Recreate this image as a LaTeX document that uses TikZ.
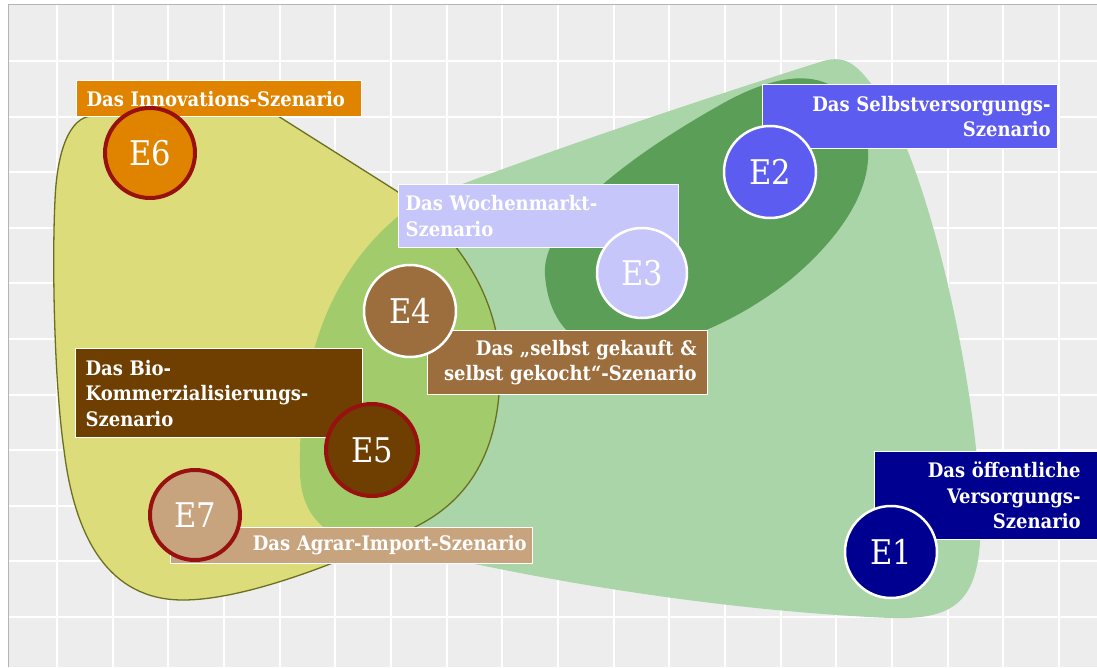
\documentclass[tikz,border=0pt]{standalone}
\usepackage{fontspec}
\setmainfont{DejaVu Serif Condensed}
\newcommand\lblfont{\bfseries\fontsize{20}{25.5}\selectfont\exhyphenpenalty=10000\relax\hyphenpenalty=10000\relax}
\begin{document}
\begin{tikzpicture}[x=1pt,y=-1pt,
  lbox/.style={draw=white, line width=1.2pt, text=white, anchor=north west,
    inner ysep=0pt, font=\lblfont},
  ecirc/.style={circle, text=white, inner sep=0pt, font=\fontsize{34}{34}\selectfont},
  redring/.style={ecirc, draw=ringred, line width=4pt, minimum size=90pt},
  whitering/.style={ecirc, draw=white, line width=2.5pt, minimum size=92pt}]
\definecolor{bggray}{HTML}{EDEDED}
\definecolor{framegray}{HTML}{B4B4B4}
\definecolor{lgreen}{HTML}{A9D5A9}
\definecolor{dgreen}{HTML}{5A9E58}
\definecolor{yel}{HTML}{DCDC7A}
\definecolor{mgreen}{HTML}{A2CC6C}
\definecolor{olive}{HTML}{6B7020}
\definecolor{orng}{HTML}{E08400}
\definecolor{ringred}{HTML}{981010}
\definecolor{eblue}{HTML}{5C5CF0}
\definecolor{lav}{HTML}{C6C6FA}
\definecolor{brn}{HTML}{9C6E3E}
\definecolor{dbrn}{HTML}{6E3F00}
\definecolor{tan}{HTML}{C8A47E}
\definecolor{navy}{HTML}{000090}
\useasboundingbox (0,0) rectangle (1097,667);
% background and grid
\fill[bggray] (8,4) rectangle (1097,667);
\foreach \k in {0,...,18} \draw[white, line width=2pt] ({57+55.67*\k},4) -- ({57+55.67*\k},667);
\foreach \k in {0,...,10} \draw[white, line width=2pt] (8,{61+55.6*\k}) -- (1097,{61+55.6*\k});
\draw[framegray, line width=1pt] (8,667) -- (8,4) -- (1097,4);
% light green blob
\def\lgpath{(300,470) .. controls (298,360) and (330,260) .. (420,200)
  .. controls (550,150) and (700,100) .. (820,62)
  .. controls (850,52) and (860,70) .. (880,95)
  .. controls (930,170) and (975,380) .. (980,500)
  .. controls (985,600) and (960,620) .. (890,618)
  .. controls (750,612) and (600,590) .. (480,565)
  .. controls (400,550) and (300,560) .. (300,470) -- cycle}
\def\ylpath{(92,116) -- (278,116) -- (395,190)
  .. controls (460,235) and (500,300) .. (500,370)
  .. controls (500,450) and (470,500) .. (415,527)
  .. controls (330,568) and (240,600) .. (183,600)
  .. controls (110,600) and (75,540) .. (64,450)
  .. controls (54,380) and (52,260) .. (55,200)
  .. controls (57,150) and (70,117) .. (92,116) -- cycle}
\fill[lgreen] \lgpath;
\fill[yel] \ylpath;
\begin{scope}
  \clip \ylpath;
  \fill[mgreen] \lgpath;
\end{scope}
\draw[olive, line width=1.3pt] \ylpath;
% dark green blob
\fill[dgreen] (545,275) .. controls (540,220) and (640,150) .. (720,105)
  .. controls (790,65) and (840,70) .. (860,120)
  .. controls (885,170) and (850,230) .. (790,280)
  .. controls (720,335) and (640,360) .. (590,345)
  .. controls (560,335) and (547,305) .. (545,275) -- cycle;
% labels
\node[lbox, fill=orng, minimum width=285pt, minimum height=36pt, inner xsep=10pt,
  text width=265pt, align=left] (l6) at (76,80) {Das Innovations-Szenario};
\node[lbox, fill=eblue, minimum width=295pt, minimum height=64pt, inner xsep=7pt,
  text width=281pt, align=right] (l2) at (762,84) {Das Selbstversorgungs-\\Szenario};
\node[lbox, fill=lav, minimum width=280pt, minimum height=63pt, inner xsep=7pt,
  text width=266pt, align=left] (l3) at (398,184) {Das Wochenmarkt-\\Szenario};
\node[lbox, fill=brn, minimum width=280pt, minimum height=64pt, inner xsep=11pt,
  text width=258pt, align=right] (l4) at (427,330) {Das „selbst gekauft \&\\selbst gekocht“-Szenario};
\node[lbox, fill=dbrn, minimum width=287pt, minimum height=89pt, inner xsep=10pt,
  text width=267pt, align=left] (l5) at (75,348) {Das Bio-\\Kommerzialisierungs-\\Szenario};
\node[lbox, fill=tan, minimum width=362pt, minimum height=36pt, inner xsep=6pt,
  text width=350pt, align=right] (l7) at (170,527) {Das Agrar-Import-Szenario};
\node[lbox, fill=navy, minimum width=223pt, minimum height=88pt, inner xsep=17pt,
  text width=189pt, align=right] (l1) at (874,451) {Das öffentliche\\Versorgungs-\\Szenario};
% circles
\node[redring, fill=orng] (e6) at (150,153) {E6};
\node[whitering, fill=eblue] (e2) at (770,172) {E2};
\node[whitering, fill=lav, minimum size=90pt] (e3) at (642,273) {E3};
\node[whitering, fill=brn] (e4) at (410,311) {E4};
\node[redring, fill=dbrn, minimum size=92pt] (e5) at (372,450) {E5};
\node[redring, fill=tan] (e7) at (195,515) {E7};
\node[whitering, fill=navy] (e1) at (891,552) {E1};
\end{tikzpicture}
\end{document}
